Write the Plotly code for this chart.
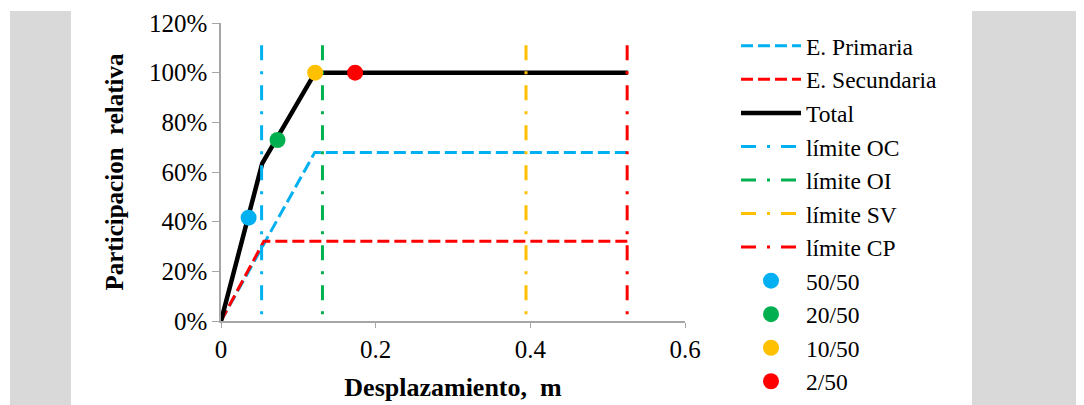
import plotly.graph_objects as go

# ---- data ----
total_x = [0, 0.0533, 0.1217, 0.526]
total_y = [0, 0.635, 1.0, 1.0]
prim_x = [0, 0.1213, 0.526]
prim_y = [0, 0.679, 0.679]
sec_x = [0, 0.0554, 0.526]
sec_y = [0, 0.321, 0.321]
limit_names = ["límite OC", "límite OI", "límite SV", "límite CP"]
limit_x = [0.0525, 0.1312, 0.3944, 0.5252]
limit_top = 1.11
point_names = ["50/50", "20/50", "10/50", "2/50"]
point_x = [0.0357, 0.0731, 0.1217, 0.1734]
point_y = [0.416, 0.729, 1.0, 1.0]
x_ticks = [0, 0.2, 0.4, 0.6]
x_ticklabels = ["0", "0.2", "0.4", "0.6"]
y_ticks = [0, 0.2, 0.4, 0.6, 0.8, 1.0, 1.2]
y_ticklabels = ["0%", "20%", "40%", "60%", "80%", "100%", "120%"]

BLUE = "#00B0F0"
RED = "#FF0000"
GREEN = "#00B050"
YELLOW = "#FFC000"
limit_colors = [BLUE, GREEN, YELLOW, RED]
point_colors = [BLUE, GREEN, YELLOW, RED]

FONT = "Liberation Serif"

fig = go.Figure()
fig.add_trace(go.Scatter(x=prim_x, y=prim_y, mode="lines", name="E. Primaria",
                         line=dict(color=BLUE, width=3, dash="12px,5px")))
fig.add_trace(go.Scatter(x=sec_x, y=sec_y, mode="lines", name="E. Secundaria",
                         line=dict(color=RED, width=3, dash="12px,5px")))
fig.add_trace(go.Scatter(x=total_x, y=total_y, mode="lines", name="Total",
                         line=dict(color="black", width=4.5)))
for n, xv, c in zip(limit_names, limit_x, limit_colors):
    fig.add_trace(go.Scatter(x=[xv, xv], y=[limit_top, 0], mode="lines", name=n,
                             line=dict(color=c, width=3, dash="15px,11px,3px,11px")))
for n, xv, yv, c in zip(point_names, point_x, point_y, point_colors):
    fig.add_trace(go.Scatter(x=[xv], y=[yv], mode="markers", name=n,
                             marker=dict(color=c, size=16)))

OFF = 8  # page body margin
W, H = 1084, 405
L, R, T, B = 221 - OFF, 685 - OFF, 23 - OFF, 321 - OFF
pw, ph = R - L, B - T

def px(v):
    return (v - OFF - L) / pw

def py(v):
    return (B - (v - OFF)) / ph

shapes = [
    dict(type="rect", xref="paper", yref="paper", x0=px(10), x1=px(71), y0=py(420), y1=py(11),
         fillcolor="#D9D9D9", line=dict(width=0), layer="below"),
    dict(type="rect", xref="paper", yref="paper", x0=px(972), x1=px(1100), y0=py(420), y1=py(11),
         fillcolor="#D9D9D9", line=dict(width=0), layer="below"),
]

fig.update_layout(
    width=W, height=H,
    margin=dict(l=L, r=W - R, t=T, b=H - B, autoexpand=False),
    paper_bgcolor="white", plot_bgcolor="white",
    font=dict(family=FONT, size=25, color="black"),
    shapes=shapes,
    showlegend=True,
    legend=dict(x=px(736), y=py(24), xanchor="left", yanchor="top",
                font=dict(family=FONT, size=23.5, color="black"),
                bgcolor="rgba(0,0,0,0)", tracegroupgap=0, maxheight=600,
                itemwidth=60),
    xaxis=dict(range=[0, 0.6], tickvals=x_ticks, ticktext=x_ticklabels,
               showgrid=False, zeroline=False, showline=True, linecolor="#A6A6A6", linewidth=1.5,
               ticks="outside", ticklen=5, tickcolor="#A6A6A6",
               tickfont=dict(family=FONT, size=25),
               title=dict(text="<b>Desplazamiento,  m</b>", font=dict(family=FONT, size=26), standoff=16)),
    yaxis=dict(range=[0, 1.2], tickvals=y_ticks, ticktext=y_ticklabels,
               showgrid=False, zeroline=False, showline=True, linecolor="#A6A6A6", linewidth=1.5,
               ticks="outside", ticklen=7, tickcolor="#A6A6A6",
               tickfont=dict(family=FONT, size=25),
               title=dict(text="<b>Participacion  relativa</b>", font=dict(family=FONT, size=25), standoff=18)),
)

fig.write_html("out.html")
